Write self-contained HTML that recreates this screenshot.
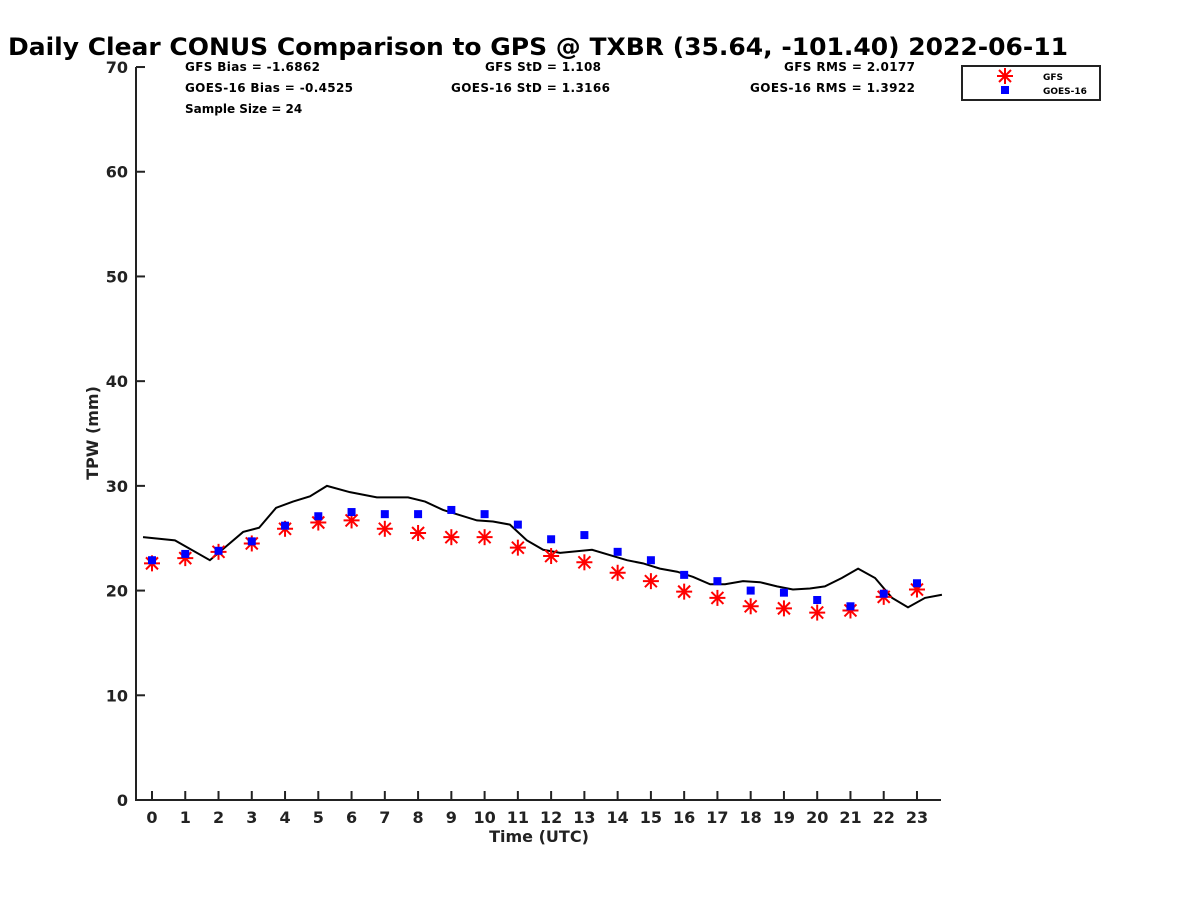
<!DOCTYPE html>
<html><head><meta charset="utf-8"><style>
body{margin:0;background:#fff;}
svg{display:block;font-family:"DejaVu Sans","Liberation Sans",sans-serif;font-weight:bold;}
</style></head><body>
<svg id="chart" width="1200" height="900" viewBox="0 0 1200 900" xmlns="http://www.w3.org/2000/svg">
<text x="8" y="55" font-size="24" fill="#000" textLength="1060" lengthAdjust="spacingAndGlyphs">Daily Clear CONUS Comparison to GPS @ TXBR (35.64, -101.40) 2022-06-11</text>
<g font-size="12" fill="#000">
<text x="185" y="71" textLength="135">GFS Bias = -1.6862</text>
<text x="185" y="92" textLength="168">GOES-16 Bias = -0.4525</text>
<text x="185" y="113">Sample Size = 24</text>
<text x="485" y="71" textLength="116">GFS StD = 1.108</text>
<text x="451" y="92" textLength="159">GOES-16 StD = 1.3166</text>
<text x="784" y="71" textLength="131">GFS RMS = 2.0177</text>
<text x="750" y="92" textLength="165">GOES-16 RMS = 1.3922</text>
</g>
<g id="axes"></g>
<g id="marks"></g>
<g>
<rect x="962" y="66" width="138" height="34" fill="#fff" stroke="#222" stroke-width="2"/>
<g stroke="#f00" stroke-width="2">
<line x1="997" y1="76" x2="1013" y2="76"/><line x1="1005" y1="68" x2="1005" y2="84"/>
<line x1="999" y1="70" x2="1011" y2="82"/><line x1="1011" y1="70" x2="999" y2="82"/></g>
<rect x="1001" y="86" width="8" height="8" fill="#00f"/>
<text x="1043" y="80" font-size="9">GFS</text>
<text x="1043" y="94" font-size="9">GOES-16</text>
</g>
</svg>
<script>
const hours=[0,1,2,3,4,5,6,7,8,9,10,11,12,13,14,15,16,17,18,19,20,21,22,23];
const gfsValues=[22.6,23.1,23.7,24.5,25.9,26.5,26.7,25.9,25.5,25.1,25.1,24.1,23.3,22.7,21.7,20.9,19.9,19.3,18.5,18.3,17.9,18.1,19.4,20.1];
const goesValues=[22.9,23.5,23.8,24.7,26.2,27.1,27.5,27.3,27.3,27.7,27.3,26.3,24.9,25.3,23.7,22.9,21.5,20.9,20.0,19.8,19.1,18.5,19.7,20.7];
const gpsTimes=[-0.27,0.69,1.74,2.74,3.22,3.73,4.24,4.75,5.26,5.95,6.76,7.70,8.21,8.75,9.77,10.25,10.76,11.27,11.76,12.27,13.23,14.28,14.76,15.27,15.79,16.27,16.78,17.23,17.77,18.28,18.79,19.27,19.78,20.23,20.74,21.23,21.74,22.25,22.73,23.24,23.75];
const gpsValues=[25.1,24.8,22.9,25.6,26.0,27.9,28.5,29.0,30.0,29.4,28.9,28.9,28.5,27.7,26.7,26.6,26.3,24.8,23.9,23.6,23.9,22.9,22.6,22.1,21.8,21.3,20.6,20.6,20.9,20.8,20.4,20.1,20.2,20.4,21.2,22.1,21.2,19.3,18.4,19.3,19.6];
const yTicks=[0,10,20,30,40,50,60,70];
const NS="http://www.w3.org/2000/svg";
const X=h=>152+h*33.26, Y=v=>800-v*10.471;
function mk(tag,attrs,parent){const e=document.createElementNS(NS,tag);for(const k in attrs)e.setAttribute(k,attrs[k]);parent.appendChild(e);return e;}
const axes=document.getElementById('axes'), marks=document.getElementById('marks');
let a=mk('path',{d:`M136,67 V800 H941`,fill:'none',stroke:'#222','stroke-width':2},axes);


yTicks.forEach(v=>{
 const t=mk('line',{x1:136,x2:145,y1:Y(v),y2:Y(v),stroke:'#222','stroke-width':2},axes);
 
 
 const l=mk('text',{x:128,y:Y(v)+6,'text-anchor':'end','font-size':16,fill:'#222'},axes);
 
 
 l.textContent=v;
});
hours.forEach(h=>{
 const t=mk('line',{x1:X(h),x2:X(h),y1:800,y2:791,stroke:'#222','stroke-width':2},axes);
 
 
 const l=mk('text',{x:X(h),y:823,'text-anchor':'middle','font-size':16,fill:'#222'},axes);
 
 
 l.textContent=h;
});
let xt=mk('text',{x:539,y:842,'text-anchor':'middle','font-size':16,fill:'#222'},axes);


xt.textContent='Time (UTC)';
let yt=mk('text',{x:0,y:0,'text-anchor':'middle','font-size':16,fill:'#222',transform:'translate(98,433) rotate(-90)'},axes);


yt.textContent='TPW (mm)';
const line=mk('polyline',{points:gpsTimes.map((t,i)=>X(t)+','+Y(gpsValues[i])).join(' '),fill:'none',stroke:'#000','stroke-width':2},marks);


hours.forEach((h,i)=>{
 const cx=X(h),cy=Y(gfsValues[i]);
 const g=mk('g',{stroke:'#f00','stroke-width':2},marks);
 
 
 mk('line',{x1:cx-8,y1:cy,x2:cx+8,y2:cy},g);
 mk('line',{x1:cx,y1:cy-8,x2:cx,y2:cy+8},g);
 mk('line',{x1:cx-6,y1:cy-6,x2:cx+6,y2:cy+6},g);
 mk('line',{x1:cx+6,y1:cy-6,x2:cx-6,y2:cy+6},g);
});
hours.forEach((h,i)=>{
 const r=mk('rect',{x:X(h)-4,y:Y(goesValues[i])-4,width:8,height:8,fill:'#00f'},marks);
 
 
});
</script>
</body></html>
